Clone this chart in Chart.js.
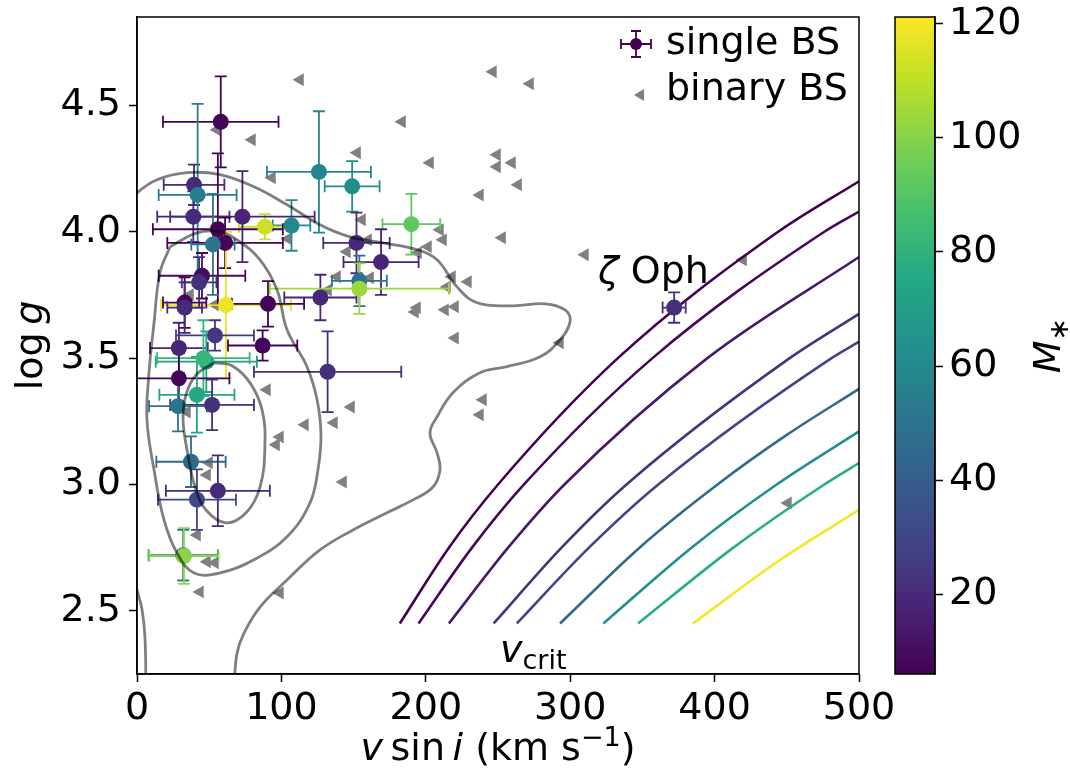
<!DOCTYPE html>
<html>
<head>
<meta charset="utf-8">
<script src="https://cdn.jsdelivr.net/npm/chart.js@4.4.1/dist/chart.umd.min.js"></script>
<style>
html, body { margin: 0; padding: 0; background: #fff; }
#mainChart { position: absolute; left: 0; top: 0; }
#barChart { position: absolute; left: 880px; top: 0; }
</style>
</head>
<body>
<canvas id="mainChart" width="910" height="778"></canvas>
<canvas id="barChart" width="190" height="778"></canvas>
<script>
// single blue stragglers: vsini, log g, errors, mass (colour)
const singleV = [58, 39.5, 42, 126, 149, 190, 107, 88.6, 73, 39, 56, 61, 52.6, 61.6, 90.7, 127, 45, 43, 33, 33,
    54, 87, 29, 48, 46, 29, 132, 41.5, 52, 28.4, 37.4, 56, 41.5, 32, 32.5, 372, 152, 169, 154, 154];
const singleLogg = [4.435, 4.186, 4.146, 4.237, 4.18, 4.03, 4.025, 4.02, 4.06, 4.06, 4.01, 3.956, 3.95, 3.71, 3.715, 3.74, 3.826, 3.80, 3.72, 3.70,
    3.59, 3.55, 3.54, 3.486, 3.50, 3.42, 3.446, 3.355, 3.315, 3.31, 3.09, 2.975, 2.94, 2.72, 2.717, 3.70, 3.956, 3.88, 3.806, 3.775];
const singleVErr = [40, 21, 27, 36, 19, 20, 13, 18, 50, 25, 45, 40, 15, 45, 25, 25, 30, 12, 15, 12,
    27, 24, 20, 35, 32, 35, 51, 26, 29, 20, 24, 36, 27, 24, 24, 8, 23, 26, 19, 62];
const singleLoggErr = [0.18, 0.08, 0.36, 0.24, 0.1, 0.12, 0.1, 0.05, 0.18, 0.1, 0.3, 0.1, 0.2, 0.29, 0.09, 0.09, 0.09, 0.1, 0.1, 0.1,
    0.06, 0.06, 0.1, 0.12, 0.15, 0.1, 0.16, 0.15, 0.1, 0.1, 0.1, 0.14, 0.12, 0.1, 0.11, 0.06, 0.12, 0.13, 0.1, 0.1];
const singleMass = [7, 20, 55, 58, 62, 92, 60, 113, 18, 20, 7, 7, 50, 118, 7, 18, 10, 22, 7, 20,
    25, 7, 18, 72, 82, 7, 22, 75, 22, 50, 45, 20, 30, 55, 101, 22, 20, 18, 50, 104];

// binary blue stragglers
const binaryV = [112.9, 55.4, 79.6, 93.5, 183.5, 152.4, 202.9, 246.5, 272.2, 249.3, 249.3, 259.7, 263.9, 237.5, 155.8, 104.6,
    209.8, 211.9, 201.5, 252.8, 194.6, 160.0, 145.4, 138.5, 161.4, 132.3, 218.1, 229.2, 214.7, 193.9, 192.5, 213.3, 220.2,
    220.2, 292.9, 239.6, 237.5, 310.2, 419.7, 450.8, 36.7, 54.0, 90.0, 116.3, 99.0, 96.3, 34.6, 136.4, 148.2, 49.9, 48.5,
    41.6, 48.5, 54.0, 43.6, 99.0, 142.7];
const binaryLogg = [4.602, 4.404, 4.364, 4.214, 4.435, 4.313, 4.273, 4.633, 4.586, 4.305, 4.257, 4.273, 4.186, 4.146, 4.048, 3.972,
    4.008, 3.968, 3.941, 3.976, 3.917, 3.968, 3.921, 3.822, 3.818, 3.770, 3.822, 3.802, 3.782, 3.699, 3.683, 3.691, 3.703,
    3.580, 3.561, 3.335, 3.276, 3.909, 3.889, 2.927, 3.751, 3.711, 3.375, 3.236, 3.188, 3.157, 3.287, 3.244, 3.307, 3.086, 3.038,
    2.800, 2.694, 2.690, 2.575, 2.571, 3.010];

// critical rotation curves
const vcritMass = [6, 8, 14, 23, 29, 46, 63, 77, 120];
const vcritV = [
    [182, 216, 250, 333, 444, 500],
    [195, 232, 268, 357, 476, 500],
    [216, 257, 296, 395, 500],
    [247, 294, 339, 452, 500],
    [263, 313, 361, 481, 500],
    [293, 348, 402, 451, 500],
    [323, 384, 443, 500],
    [347, 413, 476, 500],
    [385, 445, 500]
];
const vcritLogg = [
    [2.45, 2.75, 3.0, 3.5, 4.0, 4.2],
    [2.45, 2.75, 3.0, 3.5, 4.0, 4.08],
    [2.45, 2.75, 3.0, 3.5, 3.9],
    [2.45, 2.75, 3.0, 3.5, 3.675],
    [2.45, 2.75, 3.0, 3.5, 3.565],
    [2.45, 2.75, 3.0, 3.2, 3.378],
    [2.45, 2.75, 3.0, 3.21],
    [2.45, 2.75, 3.0, 3.085],
    [2.45, 2.7, 2.9]
];

// density contours of the binaries
const contourOuterV = [-6.2, 0, 13.9, 34.6, 57.5, 81.0, 103.9, 126.7, 147.5, 170.4, 193.9, 207.8, 221.6, 235.5, 260.4, 282.5,
    296.4, 299.9, 292.9, 279.1, 256.2, 237.5, 218.8, 207.8, 202.9, 207.8, 209.8, 205.0, 191.1, 173.1, 149.6, 126.7, 103.9,
    85.2, 74.1, 69.3, 67.2];
const contourOuterLogg = [4.107, 4.154, 4.206, 4.234, 4.226, 4.178, 4.107, 4.028, 3.980, 3.956, 3.929, 3.889, 3.782, 3.719, 3.707, 3.715,
    3.691, 3.644, 3.572, 3.505, 3.466, 3.442, 3.363, 3.268, 3.204, 3.125, 3.058, 2.990, 2.939, 2.888, 2.820, 2.741, 2.622,
    2.515, 2.412, 2.333, 2.207];
const contourEdgeV = [-2.1, 0, 3.5, 5.5, 6.2];
const contourEdgeLogg = [2.622, 2.583, 2.504, 2.397, 2.207];
const contourMidV = [22.9, 15.9, 11.8, 8.3, 6.9, 11.8, 18.7, 27.7, 39.5, 57.5, 81.0, 103.9, 119.8, 125.3, 127.4, 124.7,
    117.7, 103.9, 97.0, 85.2, 69.3, 57.5, 41.6, 22.9];
const contourMidLogg = [3.941, 3.838, 3.640, 3.442, 3.256, 3.058, 2.860, 2.729, 2.650, 2.650, 2.702, 2.793, 2.927, 3.058, 3.196, 3.335,
    3.466, 3.612, 3.770, 3.889, 3.968, 4.000, 3.996, 3.941];
const contourInnerV = [53.3, 65.8, 78.3, 86.6, 88.6, 85.2, 75.5, 61.6, 47.8, 40.2, 35.3, 31.9, 33.9, 40.9, 53.3];
const contourInnerLogg = [3.481, 3.470, 3.402, 3.295, 3.157, 2.990, 2.888, 2.848, 2.899, 2.990, 3.117, 3.256, 3.355, 3.434, 3.481];

// axes
const xTicks = [0, 100, 200, 300, 400, 500];
const yTicks = [2.5, 3.0, 3.5, 4.0, 4.5];
const cbTicks = [20, 40, 60, 80, 100, 120];
const massMin = 6;
const massMax = 121.2;

const FONT = 'DejaVu Sans';
const FS = 38;

const viridisStops = ['#440154', '#482475', '#414487', '#355f8d', '#2a788e', '#21918c',
    '#22a884', '#44bf70', '#7ad151', '#bddf26', '#fde725'];

function hexToRgb(h) {
    return [parseInt(h.slice(1, 3), 16), parseInt(h.slice(3, 5), 16), parseInt(h.slice(5, 7), 16)];
}

function viridis(t) {
    t = Math.max(0, Math.min(1, t));
    const p = t * (viridisStops.length - 1);
    const i = Math.min(Math.floor(p), viridisStops.length - 2);
    const f = p - i;
    const a = hexToRgb(viridisStops[i]);
    const b = hexToRgb(viridisStops[i + 1]);
    const c = a.map((v, k) => Math.round(v + (b[k] - v) * f));
    return `rgb(${c[0]},${c[1]},${c[2]})`;
}

function massColor(m) {
    return viridis((m - massMin) / (massMax - massMin));
}

function toPoints(xs, ys) {
    return xs.map((x, i) => ({ x: x, y: ys[i] }));
}

// no extra room for overhanging tick labels, the frame is fixed
function noPadding(axis) {
    axis.paddingLeft = 0;
    axis.paddingRight = 0;
    axis.paddingTop = 0;
    axis.paddingBottom = 0;
}

// text with italic / sub / superscript parts, centred (or left) at x
function drawRich(ctx, parts, x, y, size, align) {
    const fontOf = p => `${p.it ? 'italic ' : ''}${Math.round(size * (p.s || 1))}px "${FONT}"`;
    const widths = parts.map(p => { ctx.font = fontOf(p); return ctx.measureText(p.t).width; });
    const total = widths.reduce((a, b) => a + b, 0);
    let cx = align === 'left' ? x : x - total / 2;
    ctx.textAlign = 'left';
    ctx.textBaseline = 'alphabetic';
    parts.forEach((p, i) => {
        ctx.font = fontOf(p);
        ctx.fillText(p.t, cx, y + (p.dy || 0) * size);
        cx += widths[i];
    });
}

const errorBarPlugin = {
    id: 'errorBars',
    beforeDatasetDraw(chart, args) {
        if (chart.data.datasets[args.index].label !== 'single BS') return;
        const ctx = chart.ctx;
        const xs = chart.scales.x;
        const ys = chart.scales.y;
        const area = chart.chartArea;
        const cap = 6;
        ctx.save();
        ctx.beginPath();
        ctx.rect(area.left, area.top, area.right - area.left, area.bottom - area.top);
        ctx.clip();
        ctx.lineWidth = 1.8;
        singleV.forEach((v, i) => {
            const px = xs.getPixelForValue(v);
            const py = ys.getPixelForValue(singleLogg[i]);
            const x0 = xs.getPixelForValue(v - singleVErr[i]);
            const x1 = xs.getPixelForValue(v + singleVErr[i]);
            const y0 = ys.getPixelForValue(singleLogg[i] - singleLoggErr[i]);
            const y1 = ys.getPixelForValue(singleLogg[i] + singleLoggErr[i]);
            ctx.strokeStyle = massColor(singleMass[i]);
            ctx.beginPath();
            ctx.moveTo(x0, py); ctx.lineTo(x1, py);
            ctx.moveTo(px, y0); ctx.lineTo(px, y1);
            ctx.moveTo(x0, py - cap); ctx.lineTo(x0, py + cap);
            ctx.moveTo(x1, py - cap); ctx.lineTo(x1, py + cap);
            ctx.moveTo(px - cap, y0); ctx.lineTo(px + cap, y0);
            ctx.moveTo(px - cap, y1); ctx.lineTo(px + cap, y1);
            ctx.stroke();
        });
        ctx.restore();
    }
};

const labelPlugin = {
    id: 'labels',
    afterDraw(chart) {
        const ctx = chart.ctx;
        const area = chart.chartArea;
        const xs = chart.scales.x;
        const ys = chart.scales.y;
        ctx.save();
        // frame
        ctx.strokeStyle = '#000';
        ctx.lineWidth = 1.5;
        ctx.strokeRect(area.left, area.top, area.right - area.left, area.bottom - area.top);
        ctx.fillStyle = '#000';

        // axis titles
        drawRich(ctx, [{ t: 'v', it: true }, { t: '\u2009sin\u2009' }, { t: 'i', it: true },
            { t: ' (km s' }, { t: '\u22121', s: 0.7, dy: -0.38 }, { t: ')' }],
            (area.left + area.right) / 2, 760, FS);
        ctx.save();
        ctx.translate(42, (area.top + area.bottom) / 2);
        ctx.rotate(-Math.PI / 2);
        drawRich(ctx, [{ t: 'log\u2009' }, { t: 'g', it: true }], 0, 0, FS);
        ctx.restore();

        // annotations
        drawRich(ctx, [{ t: '\u03b6', it: true }, { t: ' Oph' }],
            xs.getPixelForValue(319.3), ys.getPixelForValue(3.798), FS, 'left');
        drawRich(ctx, [{ t: 'v', it: true }, { t: 'crit', s: 0.7, dy: 0.2 }],
            xs.getPixelForValue(251.4), ys.getPixelForValue(2.298), FS, 'left');

        // legend
        const lx = 636, ly1 = 44, ly2 = 95;
        ctx.strokeStyle = massColor(6);
        ctx.fillStyle = massColor(6);
        ctx.lineWidth = 1.8;
        ctx.beginPath();
        ctx.moveTo(lx - 15, ly1); ctx.lineTo(lx + 15, ly1);
        ctx.moveTo(lx, ly1 - 13); ctx.lineTo(lx, ly1 + 13);
        ctx.moveTo(lx - 15, ly1 - 5); ctx.lineTo(lx - 15, ly1 + 5);
        ctx.moveTo(lx + 15, ly1 - 5); ctx.lineTo(lx + 15, ly1 + 5);
        ctx.moveTo(lx - 5, ly1 - 13); ctx.lineTo(lx + 5, ly1 - 13);
        ctx.moveTo(lx - 5, ly1 + 13); ctx.lineTo(lx + 5, ly1 + 13);
        ctx.stroke();
        ctx.beginPath();
        ctx.arc(lx, ly1, 6, 0, Math.PI * 2);
        ctx.fill();
        ctx.fillStyle = '#808080';
        ctx.beginPath();
        ctx.moveTo(lx - 2, ly2);
        ctx.lineTo(lx + 8, ly2 - 6);
        ctx.lineTo(lx + 8, ly2 + 6);
        ctx.closePath();
        ctx.fill();
        ctx.fillStyle = '#000';
        drawRich(ctx, [{ t: 'single BS' }], 666, 54, FS, 'left');
        drawRich(ctx, [{ t: 'binary BS' }], 666, 100, FS, 'left');
        ctx.restore();
    }
};

const colorbarPlugin = {
    id: 'colorbar',
    beforeDraw(chart) {
        const ctx = chart.ctx;
        const area = chart.chartArea;
        const ys = chart.scales.y;
        const grad = ctx.createLinearGradient(0, ys.getPixelForValue(massMin), 0, ys.getPixelForValue(massMax));
        viridisStops.forEach((c, i) => grad.addColorStop(i / (viridisStops.length - 1), c));
        ctx.save();
        ctx.fillStyle = grad;
        ctx.fillRect(area.left, area.top, area.right - area.left, area.bottom - area.top);
        ctx.restore();
    },
    afterDraw(chart) {
        const ctx = chart.ctx;
        const area = chart.chartArea;
        ctx.save();
        ctx.strokeStyle = '#000';
        ctx.lineWidth = 1.5;
        ctx.strokeRect(area.left, area.top, area.right - area.left, area.bottom - area.top);
        ctx.fillStyle = '#000';
        ctx.translate(180, (area.top + area.bottom) / 2);
        ctx.rotate(-Math.PI / 2);
        drawRich(ctx, [{ t: 'M', it: true }, { t: '\u2217', s: 0.7, dy: 0.22 }], 0, 0, FS);
        ctx.restore();
    }
};

function contourSet(xs, ys) {
    return {
        label: 'contour',
        data: toPoints(xs, ys),
        showLine: true,
        borderColor: 'rgba(0,0,0,0.5)',
        borderWidth: 2.8,
        pointRadius: 0,
        tension: 0.4,
        fill: false,
        order: 0
    };
}

const datasets = [
    contourSet(contourOuterV, contourOuterLogg),
    contourSet(contourEdgeV, contourEdgeLogg),
    contourSet(contourMidV, contourMidLogg),
    contourSet(contourInnerV, contourInnerLogg)
];

vcritV.forEach((vs, i) => {
    datasets.push({
        label: 'vcrit',
        data: toPoints(vs, vcritLogg[i]),
        showLine: true,
        borderColor: massColor(vcritMass[i]),
        borderWidth: 2.6,
        pointRadius: 0,
        cubicInterpolationMode: 'monotone',
        fill: false,
        order: 2
    });
});

datasets.push({
    label: 'single BS',
    data: toPoints(singleV, singleLogg),
    showLine: false,
    pointRadius: 8,
    pointBackgroundColor: singleMass.map(massColor),
    pointBorderWidth: 0,
    order: 1
});

datasets.push({
    label: 'binary BS',
    data: toPoints(binaryV, binaryLogg),
    showLine: false,
    pointStyle: 'triangle',
    pointRotation: -90,
    pointRadius: 7.5,
    pointBackgroundColor: '#808080',
    pointBorderWidth: 0,
    order: 3
});

const tickFont = { family: FONT, size: FS };

new Chart(document.getElementById('mainChart'), {
    type: 'scatter',
    data: { datasets: datasets },
    options: {
        responsive: false,
        animation: false,
        layout: { padding: { top: 17, right: 51, left: 0, bottom: 0 } },
        plugins: { legend: { display: false }, tooltip: { enabled: false } },
        scales: {
            x: {
                type: 'linear',
                min: 0,
                max: 500,
                afterBuildTicks: axis => { axis.ticks = xTicks.map(v => ({ value: v })); },
                afterFit: axis => { axis.height = 104; noPadding(axis); },
                ticks: { font: tickFont, color: '#000', padding: 4, maxRotation: 0, callback: v => String(v) },
                grid: { drawOnChartArea: false, tickLength: 8, tickWidth: 1.5, tickColor: '#000' },
                border: { color: '#000', width: 1.5 }
            },
            y: {
                type: 'linear',
                min: 2.25,
                max: 4.85,
                afterBuildTicks: axis => { axis.ticks = yTicks.map(v => ({ value: v })); },
                afterFit: axis => { axis.width = 137; noPadding(axis); },
                ticks: { font: tickFont, color: '#000', padding: 8, callback: v => v.toFixed(1) },
                grid: { drawOnChartArea: false, tickLength: 8, tickWidth: 1.5, tickColor: '#000' },
                border: { color: '#000', width: 1.5 }
            }
        }
    },
    plugins: [errorBarPlugin, labelPlugin]
});

new Chart(document.getElementById('barChart'), {
    type: 'scatter',
    data: { datasets: [] },
    options: {
        responsive: false,
        animation: false,
        layout: { padding: { top: 17, left: 15, right: 0, bottom: 104 } },
        plugins: { legend: { display: false }, tooltip: { enabled: false } },
        scales: {
            x: { display: false, min: 0, max: 1 },
            y: {
                type: 'linear',
                position: 'right',
                min: massMin,
                max: massMax,
                afterBuildTicks: axis => { axis.ticks = cbTicks.map(v => ({ value: v })); },
                afterFit: axis => { axis.width = 135; noPadding(axis); },
                ticks: { font: tickFont, color: '#000', padding: 6, callback: v => String(v) },
                grid: { drawOnChartArea: false, tickLength: 8, tickWidth: 1.5, tickColor: '#000' },
                border: { color: '#000', width: 1.5 }
            }
        }
    },
    plugins: [colorbarPlugin]
});
</script>
</body>
</html>
